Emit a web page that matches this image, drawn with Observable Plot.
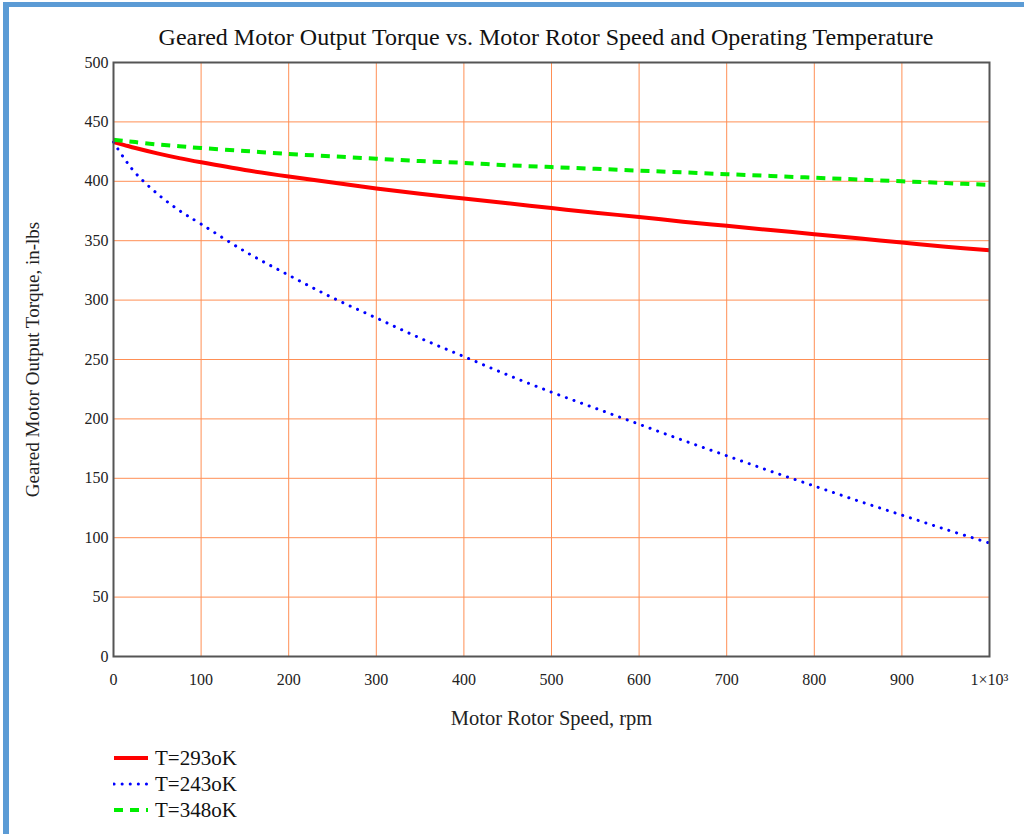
<!DOCTYPE html>
<html>
<head>
<meta charset="utf-8">
<script src="https://cdn.jsdelivr.net/npm/d3@7"></script>
<script src="https://cdn.jsdelivr.net/npm/@observablehq/plot@0.6"></script>
<style>
  html, body { margin: 0; padding: 0; background: #fff; }
  #page { position: relative; width: 1024px; height: 834px; overflow: hidden; background: #fff; font-family: "Liberation Serif", "Times New Roman", serif; }
  #bleft { position: absolute; left: 3px; top: 2px; width: 6px; height: 834px; background: #5B9BD5; }
  #btop { position: absolute; left: 3px; top: 2px; width: 1021px; height: 5px; background: #5B9BD5; }
  #title { position: absolute; top: 24px; left: 0; width: 1092px; text-align: center; font-size: 24px; color: #111; white-space: nowrap; }
  #chart { position: absolute; left: 0; top: 0; }
  #legend { position: absolute; left: 113px; top: 745px; font-size: 21px; color: #111; }
  .row { display: flex; align-items: center; height: 26px; }
  .row svg { margin-right: 6px; }
</style>
</head>
<body>
<div id="page">
  <div id="chart"></div>
  <div id="bleft"></div>
  <div id="btop"></div>
  <div id="title">Geared Motor Output Torque vs. Motor Rotor Speed and Operating Temperature</div>
  <div id="legend"></div>
</div>
<script>
const speed = [0,12.5,25,50,75,100,150,200,250,300,350,400,450,500,550,600,650,700,750,800,850,900,950,1000];
const torque293 = [433,430.5,428,423.5,419.5,416,409.5,404,399,394,389.5,385.5,381.5,377.5,373.5,370,366,362.5,359,355.5,352,348.5,345,342];
const torque243 = [433,419,407,389.5,375.5,364,341,321,302,285,268,252.5,237,222.5,209,195.5,182,169,156,143.5,131,119,107,95.5];
const torque348 = [435,434,433,431,429.5,428,425.5,423,421,419,417,415.5,413.5,412,410.5,409,407.5,406,404.5,403,401.5,400,398.5,397];
const seriesNames = ["T=293oK", "T=243oK", "T=348oK"];
const xTicks = [0,100,200,300,400,500,600,700,800,900,1000];
const yTicks = [0,50,100,150,200,250,300,350,400,450,500];

const styles = [
  {stroke: "#ff0000", strokeWidth: 4, dash: null, cap: "butt"},
  {stroke: "#0000ff", strokeWidth: 3, dash: "0.1,8", cap: "round"},
  {stroke: "#00ee00", strokeWidth: 4, dash: "9,7", cap: "butt"}
];
const seriesVals = [torque293, torque243, torque348];

const data = seriesVals.map((vals, i) => speed.map((s, j) => ({speed: s, torque: vals[j], series: seriesNames[i]})));

const gridColor = "#ff8f55";
const chart = Plot.plot({
  width: 1024,
  height: 740,
  marginLeft: 113,
  marginRight: 35,
  marginTop: 62,
  marginBottom: 84,
  style: {fontFamily: "Liberation Serif, Times New Roman, serif", fontSize: "16px", color: "#222", background: "transparent"},
  x: {domain: [0, 1000]},
  y: {domain: [0, 500]},
  marks: [
    Plot.gridX(xTicks, {stroke: gridColor, strokeOpacity: 1, strokeWidth: 1}),
    Plot.gridY(yTicks, {stroke: gridColor, strokeOpacity: 1, strokeWidth: 1}),
    ...data.map((d, i) => Plot.line(d, {
      x: "speed", y: "torque", curve: "catmull-rom",
      stroke: styles[i].stroke, strokeWidth: styles[i].strokeWidth,
      strokeDasharray: styles[i].dash, strokeLinecap: styles[i].cap
    })),
    Plot.frame({stroke: "#555", strokeWidth: 2}),
    Plot.axisX(xTicks, {
      tickSize: 0, tickPadding: 17,
      tickFormat: d => d === 1000 ? "1×10³" : String(d),
      label: "Motor Rotor Speed, rpm", labelAnchor: "center", labelArrow: "none", labelOffset: 68,
      fontSize: 16
    }),
    Plot.axisY(yTicks, {
      tickSize: 0, tickPadding: 5,
      label: "Geared Motor Output Torque, in-lbs", labelAnchor: "center", labelArrow: "none", labelOffset: 88,
      fontSize: 16
    })
  ]
});
document.getElementById("chart").appendChild(chart);
chart.querySelectorAll("g[aria-label='x-axis label'] text").forEach(t => t.setAttribute("font-size", "20.5"));
chart.querySelectorAll("g[aria-label='y-axis label'] text").forEach(t => t.setAttribute("font-size", "19"));

const legend = document.getElementById("legend");
seriesNames.forEach((name, i) => {
  const row = document.createElement("div");
  row.className = "row";
  const st = styles[i];
  row.innerHTML = `<svg width="36" height="10"><line x1="1" x2="35" y1="5" y2="5" stroke="${st.stroke}" stroke-width="${st.strokeWidth}" ${st.dash ? `stroke-dasharray="${st.dash}"` : ""} stroke-linecap="${st.cap}"/></svg><span>${name}</span>`;
  legend.appendChild(row);
});
</script>
</body>
</html>
